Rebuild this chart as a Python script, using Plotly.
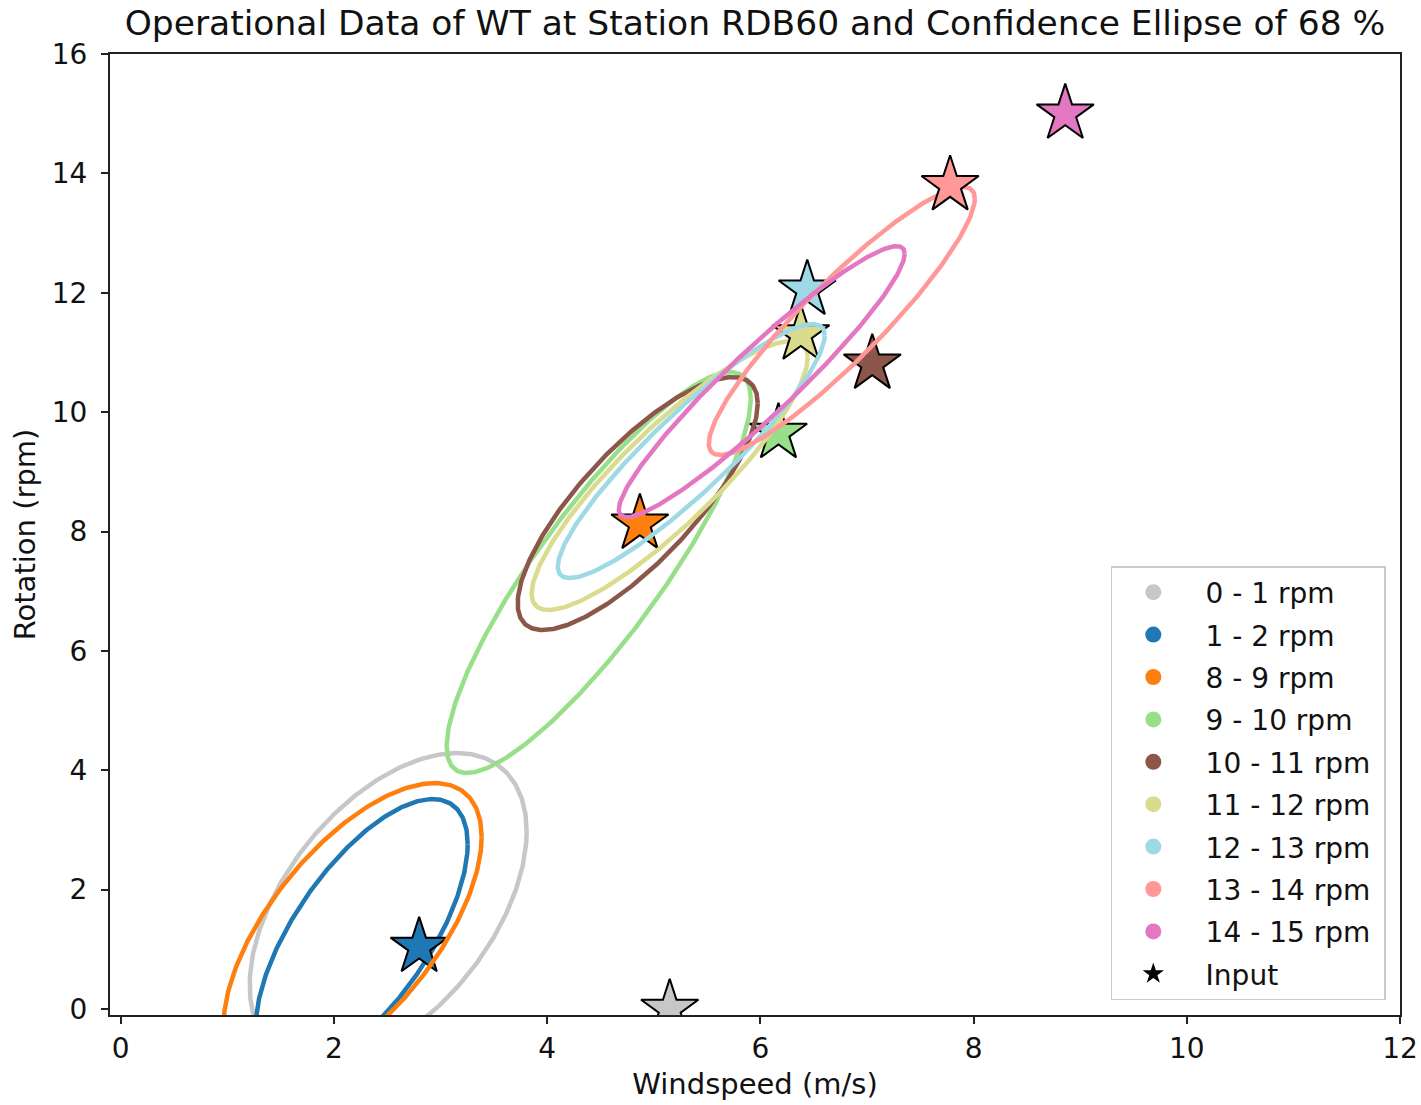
import numpy as np
import plotly.graph_objects as go

# ---- data ----
labels = ["0 - 1 rpm", "1 - 2 rpm", "8 - 9 rpm", "9 - 10 rpm", "10 - 11 rpm",
          "11 - 12 rpm", "12 - 13 rpm", "13 - 14 rpm", "14 - 15 rpm"]
colors = ["#c7c7c7", "#1f77b4", "#ff7f0e", "#98df8a", "#8c564b",
          "#dbdb8d", "#9edae5", "#ff9896", "#e377c2"]

# ellipse (68 %) parameters: mean windspeed, mean rotation, std windspeed, std rotation, correlation
mean_ws = [2.509, 2.261, 2.176, 4.484, 4.850, 5.150, 5.352, 6.764, 6.013]
mean_rot = [1.685, 1.233, 1.307, 7.313, 8.469, 8.938, 9.348, 11.526, 10.511]
std_ws = [1.299, 0.994, 1.210, 1.426, 1.126, 1.295, 1.252, 1.248, 1.341]
std_rot = [2.603, 2.285, 2.479, 3.359, 2.119, 2.253, 2.128, 2.245, 2.270]
corr = [0.495, 0.670, 0.635, 0.866, 0.790, 0.878, 0.910, 0.914, 0.944]

# input points (stars)
input_ws = [5.15, 2.80, 4.87, 6.17, 7.05, 6.38, 6.44, 7.78, 8.86]
input_rot = [0.0, 1.04, 8.13, 9.65, 10.81, 11.30, 12.05, 13.80, 15.00]

x_ticks = [0, 2, 4, 6, 8, 10, 12]
y_ticks = [0, 2, 4, 6, 8, 10, 12, 14, 16]

fig = go.Figure()
t = np.linspace(0, 2 * np.pi, 361)
for i in range(len(labels)):
    ex = mean_ws[i] + std_ws[i] * np.cos(t)
    ey = mean_rot[i] + std_rot[i] * (corr[i] * np.cos(t) + np.sqrt(1 - corr[i] ** 2) * np.sin(t))
    fig.add_trace(go.Scatter(x=ex, y=ey, mode="lines", line=dict(color=colors[i], width=4.5),
                             showlegend=False, hoverinfo="skip"))
    fig.add_trace(go.Scatter(x=[input_ws[i]], y=[input_rot[i]], mode="markers",
                             marker=dict(symbol="star", size=43, color=colors[i],
                                         line=dict(color="black", width=2)),
                             showlegend=False, cliponaxis=True))

# legend entries
pad = "\u00a0\u00a0\u00a0\u2009"
tail = "\u00a0"
for i in range(len(labels)):
    fig.add_trace(go.Scatter(x=[None], y=[None], mode="markers", name=pad + labels[i] + tail,
                             legendgroup=f"g{i}",
                             marker=dict(symbol="circle", size=16, color=colors[i])))
fig.add_trace(go.Scatter(x=[None], y=[None], mode="markers", name=pad + "Input" + tail,
                         legendgroup="inp",
                         marker=dict(symbol="star", size=16, color="black")))

axis_common = dict(showline=True, linecolor="#222", linewidth=2, mirror=True,
                   ticks="outside", ticklen=7, tickwidth=1.5, tickcolor="#222",
                   showgrid=False, zeroline=False, automargin=False,
                   tickfont=dict(family="DejaVu Sans", size=28, color="#111"))

fig.update_layout(
    width=1421, height=1105,
    margin=dict(l=110, r=21, t=54, b=90, autoexpand=False),
    paper_bgcolor="white", plot_bgcolor="white",
    font=dict(family="DejaVu Sans", color="#111"),
    title=dict(text="Operational Data of WT at Station RDB60 and Confidence Ellipse of 68 %",
               x=0.5, xref="paper", xanchor="center", y=1 - 23 / 1105, yref="container",
               yanchor="middle", font=dict(size=34.5, family="DejaVu Sans", color="#111")),
    xaxis=dict(range=[-0.1, 12], tickvals=x_ticks,
               title=dict(text="Windspeed (m/s)", font=dict(size=29), standoff=10), **axis_common),
    yaxis=dict(range=[-0.1, 16], tickvals=y_ticks, ticklabelstandoff=8,
               title=dict(text="Rotation (rpm)", font=dict(size=29), standoff=8), **axis_common),
    legend=dict(x=0.989, xanchor="right", y=0.0156, yanchor="bottom",
                font=dict(size=28, family="DejaVu Sans", color="#111"),
                bgcolor="rgba(255,255,255,0.8)", bordercolor="#cccccc", borderwidth=1.5,
                tracegroupgap=3, itemsizing="trace", indentation=21),
)

fig.write_html("out.html")
